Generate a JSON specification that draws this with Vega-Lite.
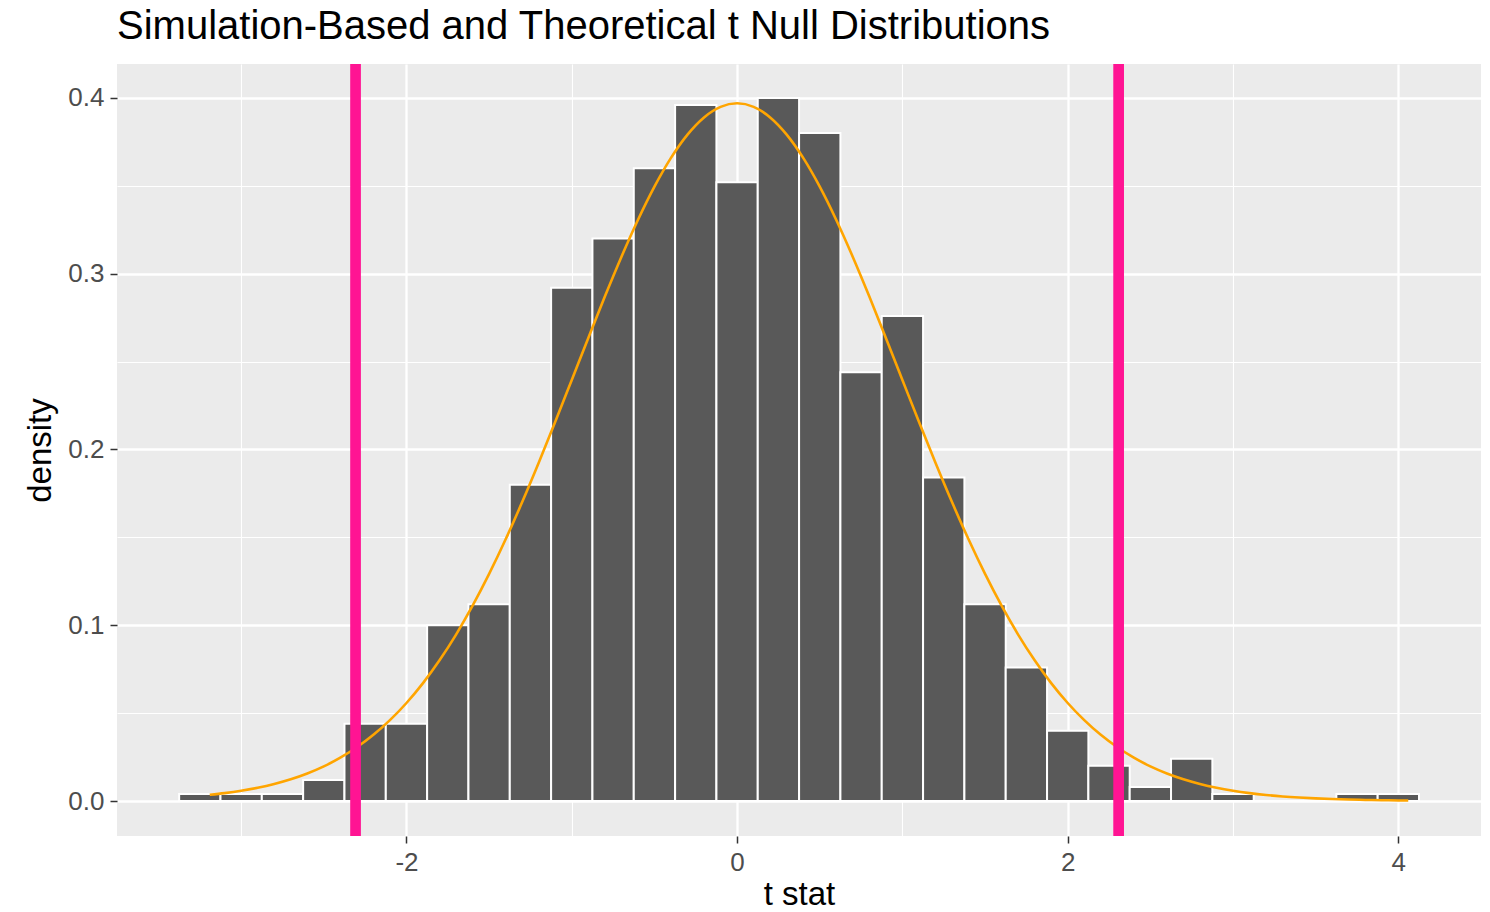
{
  "$schema": "https://vega.github.io/schema/vega-lite/v6.json",
  "width": 1364,
  "height": 772,
  "autosize": {"type": "none"},
  "padding": {"left": 117, "top": 64, "right": 9, "bottom": 76},
  "background": "white",
  "title": {"text": "Simulation-Based and Theoretical t Null Distributions", "anchor": "start", "frame": "group", "font": "Liberation Sans", "fontSize": 40, "fontWeight": "normal", "color": "black", "offset": 12},
  "config": {
    "view": {"fill": "#EBEBEB", "stroke": null},
    "axis": {"domain": false, "tickColor": "#333333", "tickWidth": 1.5, "tickSize": 7, "labelColor": "#4D4D4D", "labelFontSize": 26, "labelFont": "Liberation Sans", "titleFont": "Liberation Sans", "titleFontSize": 33, "titleFontWeight": "normal", "titleColor": "black", "gridColor": "white", "labelPadding": 6}
  },
  "resolve": {"axis": {"x": "independent", "y": "independent"}},
  "layer": [
    {
      "data": {"values": [
        {"xmin": -3.375, "xmax": -3.125, "density": 0.004},
        {"xmin": -3.125, "xmax": -2.875, "density": 0.004},
        {"xmin": -2.875, "xmax": -2.625, "density": 0.004},
        {"xmin": -2.625, "xmax": -2.375, "density": 0.012},
        {"xmin": -2.375, "xmax": -2.125, "density": 0.044},
        {"xmin": -2.125, "xmax": -1.875, "density": 0.044},
        {"xmin": -1.875, "xmax": -1.625, "density": 0.1},
        {"xmin": -1.625, "xmax": -1.375, "density": 0.112},
        {"xmin": -1.375, "xmax": -1.125, "density": 0.18},
        {"xmin": -1.125, "xmax": -0.875, "density": 0.292},
        {"xmin": -0.875, "xmax": -0.625, "density": 0.32},
        {"xmin": -0.625, "xmax": -0.375, "density": 0.36},
        {"xmin": -0.375, "xmax": -0.125, "density": 0.396},
        {"xmin": -0.125, "xmax": 0.125, "density": 0.352},
        {"xmin": 0.125, "xmax": 0.375, "density": 0.4},
        {"xmin": 0.375, "xmax": 0.625, "density": 0.38},
        {"xmin": 0.625, "xmax": 0.875, "density": 0.244},
        {"xmin": 0.875, "xmax": 1.125, "density": 0.276},
        {"xmin": 1.125, "xmax": 1.375, "density": 0.184},
        {"xmin": 1.375, "xmax": 1.625, "density": 0.112},
        {"xmin": 1.625, "xmax": 1.875, "density": 0.076},
        {"xmin": 1.875, "xmax": 2.125, "density": 0.04},
        {"xmin": 2.125, "xmax": 2.375, "density": 0.02},
        {"xmin": 2.375, "xmax": 2.625, "density": 0.008},
        {"xmin": 2.625, "xmax": 2.875, "density": 0.024},
        {"xmin": 2.875, "xmax": 3.125, "density": 0.004},
        {"xmin": 3.125, "xmax": 3.375, "density": 0},
        {"xmin": 3.375, "xmax": 3.625, "density": 0},
        {"xmin": 3.625, "xmax": 3.875, "density": 0.004},
        {"xmin": 3.875, "xmax": 4.125, "density": 0.004}
      ]},
      "mark": {"type": "rect", "fill": "#595959", "stroke": "white", "strokeWidth": 2},
      "encoding": {
        "x": {"field": "xmin", "type": "quantitative", "scale": {"domain": [-3.751, 4.5], "nice": false, "zero": false},
              "axis": {"values": [-2, 0, 2, 4], "grid": true, "gridWidth": 2.3, "labelExpr": "'' + datum.value", "title": "t stat", "titlePadding": 3}},
        "x2": {"field": "xmax"},
        "y": {"field": "density", "type": "quantitative", "scale": {"domain": [-0.0199, 0.4193], "nice": false, "zero": false},
              "axis": {"values": [0, 0.1, 0.2, 0.3, 0.4], "grid": true, "gridWidth": 2.3, "format": ".1f", "title": "density", "titlePadding": 10}},
        "y2": {"datum": 0}
      }
    },
    {
      "data": {"values": [
        {"t": -3.19, "density": 0.00353}, {"t": -3.1, "density": 0.00449}, {"t": -3.0, "density": 0.00583},
        {"t": -2.9, "density": 0.00753}, {"t": -2.8, "density": 0.00968}, {"t": -2.7, "density": 0.01235},
        {"t": -2.6, "density": 0.01566}, {"t": -2.5, "density": 0.0197}, {"t": -2.4, "density": 0.02466},
        {"t": -2.3, "density": 0.03058}, {"t": -2.2, "density": 0.03764}, {"t": -2.1, "density": 0.046},
        {"t": -2.0, "density": 0.05577}, {"t": -1.9, "density": 0.06709}, {"t": -1.8, "density": 0.08005},
        {"t": -1.7, "density": 0.0947}, {"t": -1.6, "density": 0.11111}, {"t": -1.5, "density": 0.1292},
        {"t": -1.4, "density": 0.1489}, {"t": -1.3, "density": 0.17006}, {"t": -1.2, "density": 0.19243},
        {"t": -1.1, "density": 0.21573}, {"t": -1.0, "density": 0.23957}, {"t": -0.9, "density": 0.26347},
        {"t": -0.8, "density": 0.28699}, {"t": -0.7, "density": 0.30954}, {"t": -0.6, "density": 0.33057},
        {"t": -0.5, "density": 0.34953}, {"t": -0.4, "density": 0.36588}, {"t": -0.3, "density": 0.37914},
        {"t": -0.2, "density": 0.38892}, {"t": -0.1, "density": 0.39491}, {"t": 0.0, "density": 0.39693},
        {"t": 0.1, "density": 0.39491}, {"t": 0.2, "density": 0.38892}, {"t": 0.3, "density": 0.37914},
        {"t": 0.4, "density": 0.36588}, {"t": 0.5, "density": 0.34953}, {"t": 0.6, "density": 0.33057},
        {"t": 0.7, "density": 0.30954}, {"t": 0.8, "density": 0.28699}, {"t": 0.9, "density": 0.26347},
        {"t": 1.0, "density": 0.23957}, {"t": 1.1, "density": 0.21573}, {"t": 1.2, "density": 0.19243},
        {"t": 1.3, "density": 0.17006}, {"t": 1.4, "density": 0.1489}, {"t": 1.5, "density": 0.1292},
        {"t": 1.6, "density": 0.11111}, {"t": 1.7, "density": 0.0947}, {"t": 1.8, "density": 0.08005},
        {"t": 1.9, "density": 0.06709}, {"t": 2.0, "density": 0.05577}, {"t": 2.1, "density": 0.046},
        {"t": 2.2, "density": 0.03764}, {"t": 2.3, "density": 0.03058}, {"t": 2.4, "density": 0.02466},
        {"t": 2.5, "density": 0.0197}, {"t": 2.6, "density": 0.01566}, {"t": 2.7, "density": 0.01235},
        {"t": 2.8, "density": 0.00968}, {"t": 2.9, "density": 0.00753}, {"t": 3.0, "density": 0.00583},
        {"t": 3.1, "density": 0.00449}, {"t": 3.2, "density": 0.00343}, {"t": 3.3, "density": 0.00261},
        {"t": 3.4, "density": 0.00198}, {"t": 3.5, "density": 0.00149}, {"t": 3.6, "density": 0.00111},
        {"t": 3.7, "density": 0.00083}, {"t": 3.8, "density": 0.00062}, {"t": 3.9, "density": 0.00046},
        {"t": 4.0, "density": 0.00033}, {"t": 4.06, "density": 0.00028}
      ]},
      "mark": {"type": "line", "color": "#FFA500", "strokeWidth": 2.6, "interpolate": "monotone"},
      "encoding": {
        "x": {"field": "t", "type": "quantitative",
              "axis": {"orient": "bottom", "values": [-3, -1, 1, 3], "grid": true, "gridWidth": 1.1, "labels": false, "ticks": false, "domain": false, "title": null, "minExtent": 0, "maxExtent": 0}},
        "y": {"field": "density", "type": "quantitative",
              "axis": {"orient": "right", "values": [0.05, 0.15, 0.25, 0.35], "grid": true, "gridWidth": 1.1, "labels": false, "ticks": false, "domain": false, "title": null, "minExtent": 0, "maxExtent": 0}}
      }
    },
    {
      "data": {"values": [{"t": -2.308}, {"t": 2.308}]},
      "mark": {"type": "rule", "color": "#FF1493", "strokeWidth": 10.7},
      "encoding": {
        "x": {"field": "t", "type": "quantitative", "axis": null}
      }
    }
  ]
}
